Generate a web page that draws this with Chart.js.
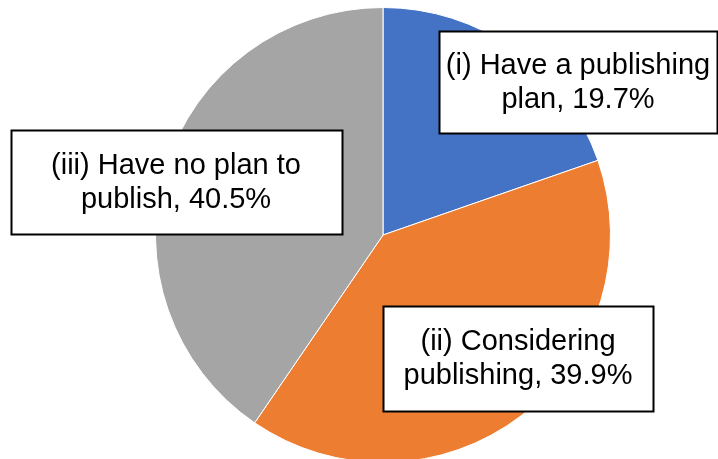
<!DOCTYPE html>
<html>
<head>
<meta charset="utf-8">
<script src="https://cdn.jsdelivr.net/npm/chart.js@4/dist/chart.umd.min.js"></script>
<style>
  html, body { margin: 0; padding: 0; background: #fff; overflow: hidden; }
  canvas { display: block; }
</style>
</head>
<body>
<canvas id="pieChart" width="718" height="470"></canvas>
<script>
// ===== DATA =====
const categories = [
  "(i) Have a publishing plan",
  "(ii) Considering publishing",
  "(iii) Have no plan to publish"
];
const shares = [19.7, 39.9, 40.5];
const sliceColors = ["#4472C4", "#ED7D31", "#A5A5A5"];

// label boxes, offset from pie centre (px) and box size
const labelBoxes = [
  { dx: 195, dy: -153, w: 278, h: 102 },
  { dx: 135, dy: 123, w: 270, h: 105 },
  { dx: -207, dy: -53, w: 331, h: 104 }
];

// ===== BOXED DATA LABELS =====
function wrapLines(ctx, text, maxW) {
  const words = text.split(" ");
  const lines = [];
  let line = "";
  words.forEach(w => {
    const test = line ? line + " " + w : w;
    if (ctx.measureText(test).width > maxW && line) {
      lines.push(line);
      line = w;
    } else {
      line = test;
    }
  });
  if (line) lines.push(line);
  return lines;
}

const boxLabels = {
  id: "boxLabels",
  afterDatasetsDraw(chart) {
    const ctx = chart.ctx;
    const meta = chart.getDatasetMeta(0);
    ctx.save();
    ctx.font = "29px 'Liberation Sans', Arial, sans-serif";
    ctx.textAlign = "center";
    ctx.textBaseline = "middle";
    meta.data.forEach((arc, i) => {
      const box = labelBoxes[i];
      const cx = arc.x + box.dx;
      const cy = arc.y + box.dy;
      const x0 = Math.round(cx - box.w / 2) + 0.5;
      const y0 = Math.round(cy - box.h / 2) + 0.5;

      ctx.fillStyle = "#fff";
      ctx.fillRect(x0, y0, box.w, box.h);
      ctx.lineWidth = 2;
      ctx.strokeStyle = "#000";
      ctx.strokeRect(x0, y0, box.w, box.h);

      const text = categories[i] + ", " + chart.data.datasets[0].data[i].toFixed(1) + "%";
      const lines = wrapLines(ctx, text, box.w - 10);
      const lh = 34;
      ctx.fillStyle = "#000";
      lines.forEach((ln, k) => {
        ctx.fillText(ln, cx, cy + (k - (lines.length - 1) / 2) * lh + 1);
      });
    });
    ctx.restore();
  }
};

// ===== CHART =====
const ctx = document.getElementById("pieChart").getContext("2d");
new Chart(ctx, {
  type: "pie",
  data: {
    labels: categories,
    datasets: [{
      data: shares,
      backgroundColor: sliceColors,
      borderColor: "#fff",
      borderWidth: 1
    }]
  },
  options: {
    responsive: false,
    animation: false,
    layout: { padding: { left: 48, right: 0, top: 7, bottom: 7 } },
    plugins: {
      legend: { display: false },
      tooltip: { enabled: false }
    }
  },
  plugins: [boxLabels]
});
</script>
</body>
</html>
